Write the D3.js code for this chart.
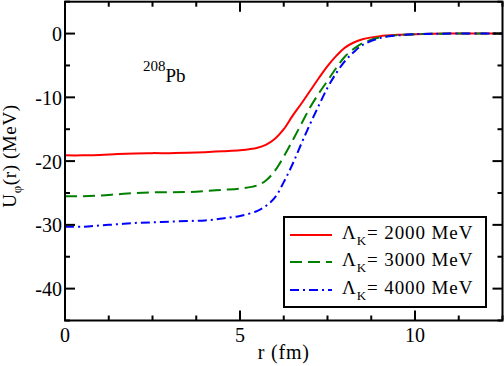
<!DOCTYPE html>
<html><head><meta charset="utf-8">
<script src="https://cdn.jsdelivr.net/npm/d3@7"></script>
<style>body{margin:0;background:#fff}svg{display:block}</style>
</head><body><svg id="c" width="504" height="366" font-family="'Liberation Serif', 'Liberation Sans', Arial, sans-serif"></svg>
<script>
const rVals = [0,0.5,1,1.5,2,2.5,3,3.5,4,4.5,5,5.5,5.75,6,6.25,6.5,6.75,7,7.25,7.5,7.75,8,8.25,8.5,9,9.5,10,11,12.5];
const u2000 = [-19.1,-19.1,-19.05,-18.9,-18.8,-18.75,-18.75,-18.7,-18.6,-18.45,-18.3,-17.9,-17.4,-16.5,-15.0,-12.9,-11.0,-9.0,-7.0,-5.1,-3.5,-2.2,-1.4,-0.9,-0.4,-0.2,-0.1,0,0];
const u3000 = [-25.5,-25.5,-25.4,-25.2,-25.0,-24.9,-24.9,-24.85,-24.7,-24.5,-24.3,-23.8,-23.0,-21.5,-19.3,-16.8,-14.2,-11.6,-9.4,-7.4,-5.4,-3.6,-2.4,-1.5,-0.6,-0.25,-0.1,0,0];
const u4000 = [-30.3,-30.3,-30.1,-29.9,-29.7,-29.6,-29.5,-29.4,-29.3,-29.0,-28.6,-27.8,-27.0,-25.7,-23.3,-20.5,-17.3,-14.2,-11.3,-8.5,-6.2,-4.3,-2.9,-1.8,-0.7,-0.3,-0.1,0,0];
const seriesNames = ["2000","3000","4000"];
const seriesColors = ["#ff0000","#008000","#0000ff"];
const seriesDash = [null,"12,6","9,4,2,4"];
const xTicks = [0,5,10];
const yTicks = [0,-10,-20,-30,-40];

const svg = d3.select("#c");
const L=65, R=502.5, T=1.7, B=320.5;
const x = d3.scaleLinear().domain([0,12.5]).range([L,R]);
const y = d3.scaleLinear().domain([-45,5]).range([B,T]);

const data=[u2000,u3000,u4000];
const line=d3.line().x((d,i)=>x(rVals[i])).y(d=>y(d)).curve(d3.curveCatmullRom.alpha(0.5));
data.forEach((s,k)=>{
  svg.append("path").attr("d",line(s)).attr("fill","none")
    .attr("stroke",seriesColors[k]).attr("stroke-width",2)
    .attr("stroke-dasharray",seriesDash[k]);
});

svg.append("rect").attr("x",L).attr("y",T).attr("width",R-L).attr("height",B-T)
  .attr("fill","none").attr("stroke","#000").attr("stroke-width",2);

const xMinor=d3.range(0,12.51,1.25), yMinor=d3.range(-45,5.01,5);
const g=svg.append("g").attr("stroke","#000").attr("stroke-width",2);
xMinor.forEach(v=>{
  const major = Math.abs(v/5-Math.round(v/5))<1e-6;
  const len = major?10:5;
  g.append("line").attr("x1",x(v)).attr("x2",x(v)).attr("y1",B).attr("y2",B-len);
  g.append("line").attr("x1",x(v)).attr("x2",x(v)).attr("y1",T).attr("y2",T+len);
});
yMinor.forEach(v=>{
  const major = Math.abs(v/10-Math.round(v/10))<1e-6;
  const len = major?10:5;
  g.append("line").attr("y1",y(v)).attr("y2",y(v)).attr("x1",L).attr("x2",L+len);
  g.append("line").attr("y1",y(v)).attr("y2",y(v)).attr("x1",R).attr("x2",R-len);
});

xTicks.forEach(v=>svg.append("text").attr("x",x(v)).attr("y",342).attr("text-anchor","middle").attr("font-size",20).text(v));
yTicks.forEach(v=>svg.append("text").attr("x",62).attr("y",y(v)+7.5).attr("text-anchor","end").attr("font-size",20).text(v));

svg.append("text").attr("x",(L+R)/2).attr("y",359).attr("text-anchor","middle").attr("font-size",20).attr("letter-spacing",0.8).text("r (fm)");
const yl=svg.append("text").attr("transform","translate(16,156) rotate(-90)").attr("text-anchor","middle").attr("font-size",19).attr("letter-spacing",0.6);
yl.append("tspan").text("U");
yl.append("tspan").attr("font-size",13).attr("dy",5).text("φ");
yl.append("tspan").attr("dy",-5).text("(r) (MeV)");

const lab=svg.append("text").attr("x",143).attr("y",82);
lab.append("tspan").attr("font-size",15).attr("dy",-11).text("208");
lab.append("tspan").attr("font-size",19).attr("dy",11).text("Pb");

svg.append("rect").attr("x",284).attr("y",217).attr("width",202).attr("height",90)
  .attr("fill","#fff").attr("stroke","#000").attr("stroke-width",2);
const rowsY=[235,262,290];
seriesNames.forEach((n,k)=>{
  svg.append("line").attr("x1",290).attr("x2",332).attr("y1",rowsY[k]).attr("y2",rowsY[k])
    .attr("stroke",seriesColors[k]).attr("stroke-width",2).attr("stroke-dasharray",seriesDash[k]);
  const t=svg.append("text").attr("x",342).attr("y",rowsY[k]+4).attr("font-size",19).attr("letter-spacing",0.9);
  t.append("tspan").text("Λ");
  t.append("tspan").attr("font-size",13).attr("dy",6).text("K");
  t.append("tspan").attr("dy",-6).text("= "+n+" MeV");
});
</script></body></html>
